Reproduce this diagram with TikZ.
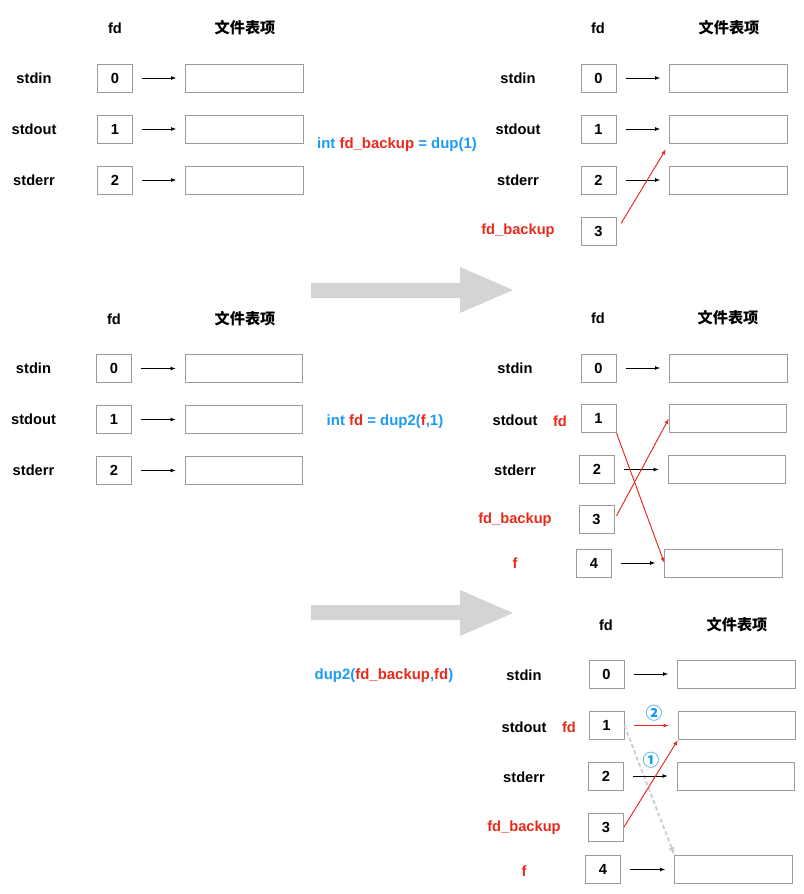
\documentclass[tikz,border=0pt]{standalone}
\usepackage{fontspec}
\setmainfont{Liberation Sans}
\newfontfamily\cjkfont{Noto Sans CJK SC}
\usetikzlibrary{arrows.meta, positioning, calc}
\definecolor{boxline}{HTML}{9B9B9B}
\definecolor{callred}{HTML}{E8291C}
\definecolor{callblue}{HTML}{1B9CF2}
\definecolor{bigarrow}{HTML}{D4D4D4}
\definecolor{oldlink}{HTML}{CDCDCD}
\newcommand{\rd}[1]{\textcolor{callred}{#1}}
\tikzset{
  txt/.style     = {font=\bfseries\fontsize{11}{13}\selectfont, inner sep=1pt},
  cjk/.style     = {font=\cjkfont\bfseries\fontsize{11.4}{13}\selectfont, inner sep=1pt},
  redtxt/.style  = {txt, text=callred},
  calltxt/.style = {font=\bfseries\fontsize{11.2}{13}\selectfont, text=callblue, inner sep=1pt},
  fdbox/.style   = {txt, draw=boxline, line width=0.75pt, inner sep=0pt,
                    minimum width=26.25pt, minimum height=21pt},
  filebox/.style = {draw=boxline, line width=0.75pt, inner sep=0pt,
                    minimum width=88pt, minimum height=21pt},
  num/.style     = {font=\cjkfont\bfseries\fontsize{12.5}{14}\selectfont, text=callblue, inner sep=0pt},
  ptr/.style     = {-{Latex[length=4pt, width=3pt]}, line width=0.7pt,
                    shorten <=6.75pt, shorten >=6.75pt},
  redptr/.style  = {ptr, draw=callred, fill=callred},
  oldptr/.style  = {-{Latex[length=6pt, width=5pt]}, draw=oldlink, line width=1.4pt,
                    dash pattern=on 3pt off 2pt},
  bigarr/.style  = {fill=bigarrow},
}

\begin{document}
\begin{tikzpicture}[x=0.75pt, y=-0.75pt]
\useasboundingbox (0,0) rectangle (804,894);

% =========================================================================
% antes: tabla inicial
% =========================================================================
\node[txt] (ahd) at (115,28) {fd};
\node[cjk] (ahf) at (245,28) {文件表项};
\foreach \i/\y/\lab in {0/78/stdin, 1/129/stdout, 2/180/stderr} {
  \node[txt] (al\i) at (34,\y) {\lab};
  \node[fdbox] (a\i) at (115,\y) {\i};
  \node[filebox] (af\i) at (244.5,\y) {};
  \draw[ptr] (a\i) -- (af\i);
}

\node[calltxt] (call1) at (397,145) {int \rd{fd\_backup} = dup(1)};

% =========================================================================
% tras dup(1)
% =========================================================================
\node[txt] (bhd) at (598,28) {fd};
\node[cjk] (bhf) at (729,28) {文件表项};
\foreach \i/\y/\lab/\st in {0/78/stdin/txt, 1/129/stdout/txt, 2/180/stderr/txt,
                            3/231/fd\_backup/redtxt}
  \node[\st] (bl\i) at (518,\y) {\lab};
\foreach \i/\y in {0/78, 1/129, 2/180, 3/231}
  \node[fdbox] (b\i) at (598.5,\y) {\i};
\foreach \i/\y in {0/78, 1/129, 2/180} {
  \node[filebox] (bf\i) at (728.5,\y) {};
  \draw[ptr] (b\i) -- (bf\i);
}
\draw[redptr, shorten >=5pt] (b3.east) -- (bf1.south west);

% flechas grandes
\fill[bigarr] (311,283) -- (460,283) -- (460,267) -- (513,290)
  -- (460,313) -- (460,298) -- (311,298) -- cycle;
\fill[bigarr] (311,605) -- (460,605) -- (460,590) -- (513,613)
  -- (460,636) -- (460,620) -- (311,620) -- cycle;

% =========================================================================
% antes de dup2(f,1)
% =========================================================================
\node[txt] (chd) at (114,319) {fd};
\node[cjk] (chf) at (245,319) {文件表项};
\foreach \i/\y/\lab in {0/368.5/stdin, 1/419.5/stdout, 2/470.5/stderr} {
  \node[txt] (cl\i) at (33.5,\y) {\lab};
  \node[fdbox] (c\i) at (114,\y) {\i};
  \node[filebox] (cf\i) at (244,\y) {};
  \draw[ptr] (c\i) -- (cf\i);
}

\node[calltxt] (call2) at (385,422) {int \rd{fd} = dup2(\rd{f},1)};

% =========================================================================
% tras dup2(f,1)
% =========================================================================
\node[txt] (dhd) at (598,318) {fd};
\node[cjk] (dhf) at (728,318) {文件表项};
\foreach \i/\y/\lab/\st in {0/368/stdin/txt, 1/420/stdout/txt, 2/470/stderr/txt,
                            3/520/fd\_backup/redtxt, 4/563/f/redtxt}
  \node[\st] (dl\i) at (515,\y) {\lab};
\node[redtxt] (dfd) at (560,421) {fd};
\foreach \i/\x/\y in {0/598.5/368, 1/598.5/418.5, 2/597/469.5, 3/596.5/519.5, 4/594/563}
  \node[fdbox] (d\i) at (\x,\y) {\i};
\foreach \i/\x/\y in {0/728.5/368, 1/728/418.5, 2/727/469.5, 4/723.5/563}
  \node[filebox] (df\i) at (\x,\y) {};
\foreach \i in {0, 2, 4}
  \draw[ptr] (d\i) -- (df\i);
\draw[redptr, shorten <=0pt, shorten >=0pt] (d1.south east) -- (df4.west);
\draw[redptr, shorten <=3pt, shorten >=0pt] (d3.east) -- (df1.west);

\node[calltxt] (call3) at (384,676) {dup2(\rd{fd\_backup},\rd{fd})};

% =========================================================================
% tras dup2(fd_backup,fd)
% =========================================================================
\node[txt] (ehd) at (606,625) {fd};
\node[cjk] (ehf) at (737,625) {文件表项};
\foreach \i/\y/\lab/\st in {0/675/stdin/txt, 1/727/stdout/txt, 2/777/stderr/txt,
                            3/828/fd\_backup/redtxt, 4/871/f/redtxt}
  \node[\st] (el\i) at (524,\y) {\lab};
\node[redtxt] (efd) at (569,727) {fd};
\foreach \i/\x/\y in {0/606.5/674, 1/606.5/725.5, 2/606/776, 3/606/827, 4/603/869.5}
  \node[fdbox] (e\i) at (\x,\y) {\i};
\foreach \i/\x/\y in {0/736.5/674, 1/737/725.5, 2/736/776, 4/733.5/869.5}
  \node[filebox] (ef\i) at (\x,\y) {};
\draw[oldptr] (e1.east) -- (ef4.north west);
\foreach \i in {0, 2, 4}
  \draw[ptr] (e\i) -- (ef\i);
\draw[redptr] (e1) -- (ef1);
\draw[redptr, shorten <=0pt, shorten >=0pt] (e3.east) -- (ef1.south west);
\node[num] (step2) at (654,713) {②};
\node[num] (step1) at (651,760) {①};

\end{tikzpicture}
\end{document}
